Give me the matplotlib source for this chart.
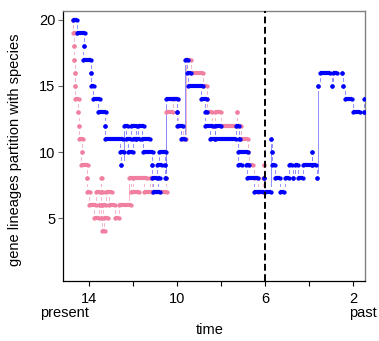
import matplotlib
matplotlib.use('Agg')
import matplotlib.pyplot as plt

plt.rcParams['font.family'] = ['Liberation Sans', 'DejaVu Sans']

# blue trace: runs of equal lineage count (start time, end time, count)
blue_start = [14.74, 14.56, 14.23, 14.25, 13.92, 13.91, 13.83, 13.58, 13.26, 13.25,
              12.59, 12.56, 12.41, 12.32, 12.21, 11.99, 12.10, 11.86, 11.76, 11.60,
              11.56, 11.15, 11.15, 11.08, 10.85, 10.91, 10.80, 10.55, 10.55, 10.49,
              9.99, 10.01, 9.83, 9.64, 9.56, 9.49, 8.92, 8.73, 8.73, 8.50,
              8.27, 8.27, 7.33, 7.18, 7.21, 7.21, 6.88, 6.83, 6.49, 6.03,
              6.02, 5.71, 5.70, 5.70, 5.55, 5.32, 5.11, 4.90, 4.71, 4.64,
              4.49, 4.25, 3.86, 3.85, 3.65, 3.60, 3.50, 2.97, 2.92, 2.51,
              2.47, 2.36, 1.99, 1.50, 1.48]
blue_end = [14.56, 14.18, 14.23, 13.89, 13.92, 13.77, 13.50, 13.23, 13.26, 12.44,
            12.41, 12.56, 12.21, 12.11, 11.99, 11.86, 11.83, 11.68, 11.50, 11.23,
            11.08, 11.15, 10.92, 10.77, 10.77, 10.70, 10.50, 10.55, 10.50, 9.95,
            9.99, 9.71, 9.64, 9.49, 9.38, 8.83, 8.65, 8.62, 8.35, 8.27,
            8.01, 7.34, 7.18, 7.14, 6.76, 7.03, 6.71, 6.30, 6.05, 6.03,
            5.73, 5.71, 5.70, 5.55, 5.32, 5.12, 4.90, 4.79, 4.71, 4.50,
            4.26, 3.88, 3.86, 3.66, 3.65, 3.58, 3.05, 2.97, 2.71, 2.51,
            2.47, 2.06, 1.68, 1.50, 1.32]
blue_level = [20, 19, 18, 17, 16, 15, 14, 13, 12, 11,
              10, 9, 12, 11, 10, 11, 12, 11, 12, 11,
              10, 9, 8, 7, 8, 9, 10, 9, 8, 14,
              13, 12, 11, 17, 16, 15, 14, 13, 12, 11,
              12, 11, 12, 11, 10, 9, 9, 8, 7, 8,
              7, 11, 10, 9, 8, 7, 8, 9, 8, 9,
              8, 9, 10, 9, 8, 15, 16, 15, 16, 16,
              15, 14, 13, 13, 14]

# pink trace
pink_start = [14.73, 14.71, 14.68, 14.67, 14.65, 14.62, 14.65, 14.50, 14.45, 14.47,
              14.32, 14.38, 14.10, 14.10, 13.99, 13.76, 13.55, 13.68, 13.47, 13.45,
              13.47, 13.47, 13.40, 13.32, 13.36, 13.23, 13.09, 12.80, 12.64, 12.17,
              12.10, 12.00, 11.50, 11.23, 11.15, 10.50, 10.49, 10.18, 9.98, 9.95,
              9.73, 9.61, 9.38, 8.83, 8.64, 8.62, 8.41, 8.27, 8.01, 7.29,
              7.27, 7.11, 6.77, 6.73, 6.52, 6.32, 6.07, 6.03]
pink_end = [14.73, 14.59, 14.68, 14.67, 14.65, 14.62, 14.47, 14.50, 14.45, 14.29,
            14.32, 14.03, 14.10, 13.95, 13.68, 13.55, 13.48, 13.48, 13.40, 13.38,
            13.40, 13.39, 13.26, 13.12, 13.23, 12.97, 12.80, 12.65, 12.09, 12.00,
            11.71, 11.38, 11.15, 11.15, 10.47, 10.50, 10.20, 9.95, 9.98, 9.73,
            9.61, 9.38, 8.83, 8.65, 8.64, 8.42, 8.30, 8.01, 7.32, 7.29,
            7.11, 6.79, 6.75, 6.53, 6.32, 6.08, 6.05, 6.03]
pink_level = [20, 19, 18, 17, 16, 15, 14, 13, 12, 11,
              10, 9, 8, 7, 6, 5, 6, 7, 8, 7,
              6, 5, 4, 5, 6, 7, 6, 5, 6, 8,
              7, 8, 7, 8, 7, 8, 13, 14, 13, 12,
              11, 17, 16, 15, 14, 13, 12, 13, 12, 13,
              12, 11, 10, 9, 8, 7, 8, 9]

x_ticks = [14, 10, 6, 2]
x_minor = [12, 8, 4]
y_ticks = [5, 10, 15, 20]
split_time = 6

blue = '#0000ff'
blue_line = '#7b7bff'
pink = '#f07fa0'
pink_line = '#f5a8bf'
gap = 0.4

fig = plt.figure(figsize=(3.79, 3.41), dpi=100)
ax = fig.add_axes([63 / 379, 60 / 341, 302 / 379, 270 / 341])


def draw_trace(starts, ends, levels, color, line_color):
    # connecting lines, left open around the points
    for i in range(1, len(levels)):
        y0, y1 = levels[i - 1], levels[i]
        if abs(y1 - y0) > 2 * gap:
            s = 1 if y1 > y0 else -1
            ax.plot([starts[i], starts[i]], [y0 + s * gap, y1 - s * gap],
                    color=line_color, lw=0.6, zorder=2)
    for xs, xe, y in zip(starts, ends, levels):
        ax.plot([xs, xe], [y, y], color=color, lw=3.0, marker='o', ms=3.1,
                mew=0, solid_capstyle='butt', zorder=3)


draw_trace(pink_start, pink_end, pink_level, pink, pink_line)
draw_trace(blue_start, blue_end, blue_level, blue, blue_line)

ax.axvline(split_time, color='black', lw=1.4, linestyle=(0, (3.5, 1.8)), zorder=4)

ax.set_xlim(15.18, 1.455)
ax.set_ylim(0.23, 20.68)
ax.set_xticks(x_ticks)
ax.set_xticks(x_minor, minor=True)
ax.set_yticks(y_ticks)
ax.tick_params(axis='x', which='both', length=3.6, width=0.8, pad=4,
               labelsize=10.5, color='black')
ax.tick_params(axis='y', length=3.6, width=0.8, pad=2, labelsize=10.5,
               color='#666666')

for side in ['top', 'right']:
    ax.spines[side].set_color('#808080')
    ax.spines[side].set_linewidth(1.0)
for side in ['left', 'bottom']:
    ax.spines[side].set_color('black')
    ax.spines[side].set_linewidth(0.9)

ax.text(14, -2.2, 'present', ha='right', va='center', fontsize=10.5)
ax.text(2.18, -2.2, 'past', ha='left', va='center', fontsize=10.5)
fig.text(209.5 / 379, 1 - 330 / 341, 'time', ha='center', va='center', fontsize=10.5)
fig.text(15 / 379, 1 - 150 / 341, 'gene lineages partition with species',
         rotation=90, ha='center', va='center', fontsize=10.5)

fig.savefig('out.png', dpi=100)
